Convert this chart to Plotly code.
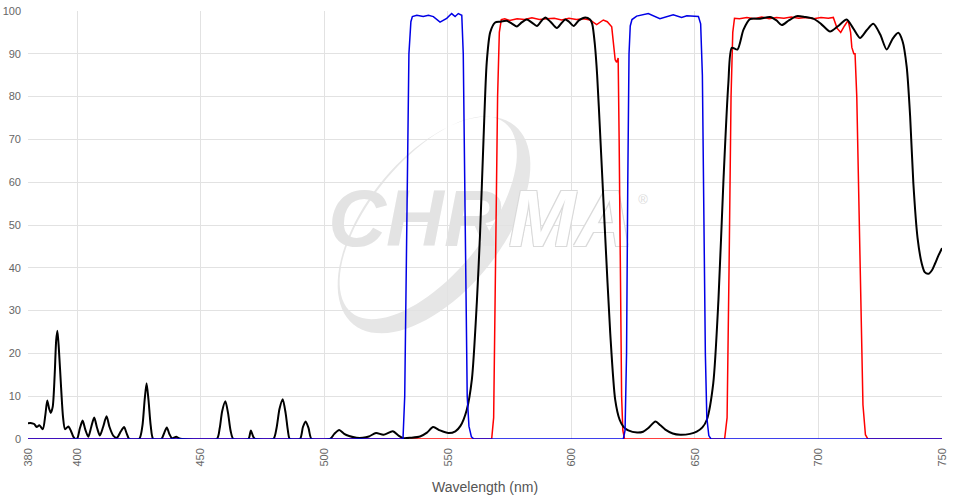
import math
import plotly.graph_objects as go

# ---------------- data ----------------
black_nm = [380, 381.5, 382.5, 383.5, 384.6, 386, 387, 387.8, 388.6, 389.2, 390, 390.8, 391.4, 391.9,
            392.5, 393.4, 394.2, 395, 396.3, 397.3, 398.3, 399.2, 400, 401, 402.1, 403.2, 404.4, 405.6,
            406.8, 408, 409.1, 410.4, 411.8, 413, 414.5, 416, 417.6, 418.9, 420, 421, 425, 426.3, 427.2,
            428, 428.8, 429.7, 430.7, 434, 435.2, 436.2, 437.2, 438.2, 439, 440, 441, 442.3, 456.4, 457.6,
            458.6, 459.9, 461, 462, 463.1, 469.2, 470.2, 471.2, 471.9, 479.3, 480.6, 481.8, 483.1, 484.3,
            485.2, 486, 490.1, 491.3, 492.4, 493.6, 494.8, 502.3, 504, 506, 508, 510, 513, 515.5, 518,
            520.9, 523.9, 527.7, 530, 532, 535, 538.7, 541.5, 544, 546.8, 550.2, 553, 555, 557.6, 559.7,
            561.7, 563, 564.4, 565.7, 567.1, 569.1, 571, 573.8, 576, 577.9, 580, 581.9, 584, 586, 588,
            589.4, 591.5, 594.1, 596, 597.5, 599, 600.9, 603, 605.6, 607.5, 608.4, 609.5, 610.4, 611.6,
            613.6, 615.7, 617.7, 619.5, 621, 623, 626.6, 629, 631, 634, 636, 638, 641, 644, 648, 650.7,
            653, 654.8, 657.4, 659.5, 661.5, 663.5, 664.9, 667.2, 669.6, 672.3, 676.3, 680.4, 683, 685.1,
            688, 691.2, 694.5, 697.9, 701, 704.7, 708, 711.4, 714, 716.8, 719.5, 722.2, 725, 727.6, 730,
            732.3, 734, 735.7, 737.1, 738.4, 740.1, 741.8, 743, 744.5, 746, 747.2, 748.5, 750]
black_t = [3.7, 3.7, 3.5, 2.8, 3.2, 2.3, 5.5, 9.0, 7.0, 6.1, 7.5, 15, 23, 25.3,
           21, 12, 5, 2.3, 2.9, 2.0, 0.6, 0, 0.2, 2.5, 4.3, 2.2, 0.5, 2.8,
           5.0, 2.5, 0.8, 2.8, 5.3, 2.8, 0.8, 0.3, 1.8, 2.8, 1.2, 0, 0, 3, 9,
           13, 9, 3, 0, 0, 1.5, 2.7, 1.2, 0.2, 0.3, 0.5, 0.2, 0, 0, 2.5,
           6.5, 8.8, 6, 2, 0, 0, 2.0, 0.5, 0, 0, 2.5, 7, 9.3, 6,
           2, 0, 0, 2.8, 4.1, 2.5, 0, 0, 1.2, 2.1, 1.2, 0.7, 0.3, 0.3, 0.6,
           1.4, 1.0, 1.8, 0.8, 0.2, 0.3, 0.6, 1.5, 2.8, 2.0, 1.4, 1.8, 3, 6.8, 14,
           32, 48, 70, 88, 95, 97.3, 97.5, 97.7, 97, 96.4, 97.4, 98, 97.3, 96.5, 97.8,
           98.5, 97.5, 96, 97.2, 98, 97.5, 96.5, 97.8, 98.5, 98, 97, 92, 85, 71.5,
           48, 24.7, 9.2, 4.5, 2.9, 2, 1.5, 1.7, 2.5, 4.1, 3.2, 2.2, 1.3, 1.0, 1.2, 1.7,
           2.7, 4.5, 13, 32.5, 60, 83, 91.4, 91, 95.6, 98.1, 98.2, 98.6, 97.8, 96.7,
           97.8, 98.8, 98.6, 98.2, 97, 95.2, 96.5, 98.0, 96, 93.7, 95.5, 97, 94.5, 91, 93.5,
           94.9, 93, 87, 75.4, 59.8, 47, 41, 39, 38.6, 39.5, 41, 42.8, 44.6]

red_nm = [380, 567.7, 568.5, 569.3, 570.1, 570.8, 571.6, 573, 575, 578, 581, 584, 587, 590, 593,
          596, 599, 602, 605, 607.5, 610.2, 612.9, 614.5, 616.3, 617.2, 617.7, 618.3, 618.9, 619.3,
          619.8, 620.3, 620.8, 621.5, 662, 663, 663.8, 664.6, 665.3, 666, 668, 671, 674, 677, 680,
          683, 686, 689, 692, 695, 698, 701, 704, 706, 707.5, 709, 710.5, 712, 713, 713.5, 714.3,
          714.8, 715.5, 716.3, 717.2, 718, 719, 720, 750]
red_t = [0, 0, 5, 40, 80, 95, 98, 98.2, 97.8, 98.2, 98, 98.4, 98, 98.2, 98.3,
         97.9, 98.3, 98, 98.2, 97.9, 96.8, 97.9, 97.5, 96.3, 92, 88.6, 88, 89, 70,
         35, 10, 2, 0, 0, 5, 40, 80, 95, 98.3, 98.2, 98.5, 98.2, 98.6, 98.2,
         98.5, 98.3, 98.6, 98.3, 98.5, 98.2, 98.5, 98.3, 98.5, 96, 95, 96.5, 97.8, 95, 91.5, 90,
         90, 80, 55, 25, 8, 1, 0, 0]

blue_nm = [380, 531.8, 532.5, 533.3, 534.2, 535, 535.6, 537.4, 540, 542.1, 544.1, 546.8, 549.5,
           551.5, 552.9, 554.2, 555.6, 556.2, 556.8, 557.3, 557.8, 558.5, 559.5, 560.5,
           621, 621.7, 622.3, 622.8, 623.3, 623.8, 624.5, 626.4, 631.1, 635.8, 641.2, 644.6,
           646.7, 651.4, 652.3, 653, 653.6, 654.2, 654.8, 655.6, 656.5, 750]
blue_t = [0, 0, 10, 50, 90, 97.5, 98.7, 99, 98.7, 99, 98.7, 97.4, 98.3,
          99.4, 98.7, 99.4, 99, 90, 60, 30, 10, 3, 0.5, 0,
          0, 2, 20, 60, 90, 96.5, 98, 98.8, 99.4, 98.2, 99.1, 98.5,
          98.9, 98.7, 97, 85, 50, 20, 5, 0.8, 0, 0]

x_ticks = [380, 400, 450, 500, 550, 600, 650, 700, 750]
y_ticks = [0, 10, 20, 30, 40, 50, 60, 70, 80, 90, 100]
x_title = "Wavelength (nm)"
logo_solid = "CHR"
logo_outline = "MA"
logo_mark = "®"

# ---------------- geometry helpers ----------------
W, H = 957, 501
# plot area in window pixels: x 28..942, y 11..439
ML, MR, MT, MB = 28, W - 942, 11, H - 439
PW, PH = W - ML - MR, H - MT - MB
XR, YR = (380, 750), (0, 100)


def px_to_data(px, py):
    """window pixel -> data coordinates"""
    return (XR[0] + (px - ML) / PW * (XR[1] - XR[0]),
            YR[0] + (H - MB - py) / PH * (YR[1] - YR[0]))


def px_to_paper(px, py):
    return (px - ML) / PW, (H - MB - py) / PH


def ellipse_path(cx, cy, a, b, phi_deg, n=90):
    phi = math.radians(phi_deg)
    d = (math.cos(phi), -math.sin(phi))
    u = (-math.sin(phi), -math.cos(phi))
    pts = []
    for i in range(n):
        t = 2 * math.pi * i / n
        px = cx + a * math.cos(t) * d[0] + b * math.sin(t) * u[0]
        py = cy + a * math.cos(t) * d[1] + b * math.sin(t) * u[1]
        pts.append(px_to_paper(px, py))
    return "M " + " L ".join(f"{x:.4f},{y:.4f}" for x, y in pts) + " Z"


phi = 51
dvec = (math.cos(math.radians(phi)), -math.sin(math.radians(phi)))
uvec = (-math.sin(math.radians(phi)), -math.cos(math.radians(phi)))
cx, cy = 434, 225
icx = cx + 9 * uvec[0] + 2 * dvec[0]
icy = cy + 9 * uvec[1] + 2 * dvec[1]
ring = ellipse_path(cx, cy, 128, 68, phi) + " " + ellipse_path(icx, icy, 122, 57, phi)

font_main = "Liberation Sans Narrow, Arial Narrow, Liberation Sans, Arial, sans-serif"
font_logo = "Liberation Sans, Arial, sans-serif"

fig = go.Figure()

# watermark words (drawn first, beneath the curves)
sx, sy = px_to_data(415, 226)
ox, oy = px_to_data(571, 226)
rx, ry = px_to_data(643, 201)
fig.add_trace(go.Scatter(x=[sx], y=[sy], mode="text", text=[logo_solid], hoverinfo="skip",
                         textfont=dict(family=font_logo, size=80, color="#e3e3e3",
                                       weight="bold", style="italic")))
fig.add_trace(go.Scatter(x=[ox], y=[oy], mode="text", text=[logo_outline], hoverinfo="skip",
                         textfont=dict(family=font_logo, size=80, color="#ffffff",
                                       weight="bold", style="italic",
                                       shadow="-1px -1px 0 #dadada, 1px -1px 0 #dadada, -1px 1px 0 #dadada, 1px 1px 0 #dadada")))
fig.add_trace(go.Scatter(x=[rx], y=[ry], mode="text", text=[logo_mark], hoverinfo="skip",
                         textfont=dict(family=font_logo, size=13, color="#dcdcdc")))

fig.add_trace(go.Scatter(x=red_nm, y=red_t, mode="lines", line=dict(color="#ff0000", width=1.5),
                         hoverinfo="skip"))
fig.add_trace(go.Scatter(x=black_nm, y=black_t, mode="lines",
                         line=dict(color="#000000", width=2, shape="spline", smoothing=0.7),
                         hoverinfo="skip"))
fig.add_trace(go.Scatter(x=blue_nm, y=blue_t, mode="lines", line=dict(color="#0000e6", width=1.5),
                         hoverinfo="skip"))

fig.update_layout(
    width=W, height=H,
    margin=dict(l=ML, r=MR, t=MT, b=MB, autoexpand=False),
    paper_bgcolor="white", plot_bgcolor="white",
    showlegend=False,
    hovermode=False,
    shapes=[dict(type="path", xref="paper", yref="paper", path=ring, fillcolor="#e6e6e6",
                 line=dict(width=0), layer="below", fillrule="evenodd")],
    annotations=[dict(text=x_title, xref="paper", yref="paper",
                      x=0.5, y=px_to_paper(0, 487)[1], xanchor="center", yanchor="middle",
                      showarrow=False,
                      font=dict(family=font_main, size=14, color="#555555"))],
)
fig.update_xaxes(range=list(XR), tickmode="array", tickvals=x_ticks,
                 ticktext=[str(v) for v in x_ticks], tickangle=-90,
                 showgrid=True, gridcolor="#e2e2e2", gridwidth=1, zeroline=False, showline=False,
                 ticks="", ticklabelstandoff=6, automargin=False, ticklabeloverflow="allow",
                 tickfont=dict(family=font_main, size=11, color="#666666"))
fig.update_yaxes(range=list(YR), tickmode="array", tickvals=y_ticks,
                 ticktext=[str(v) for v in y_ticks],
                 showgrid=True, gridcolor="#e2e2e2", gridwidth=1, zeroline=False, showline=False,
                 ticks="", ticklabelstandoff=6, automargin=False, ticklabeloverflow="allow",
                 tickfont=dict(family=font_main, size=11, color="#666666"))

# remove the default 8px page margin so the figure sits at the window's top-left corner
fig.write_html("out.html", config={"displayModeBar": False},
               post_script="document.body.style.margin='0';")
